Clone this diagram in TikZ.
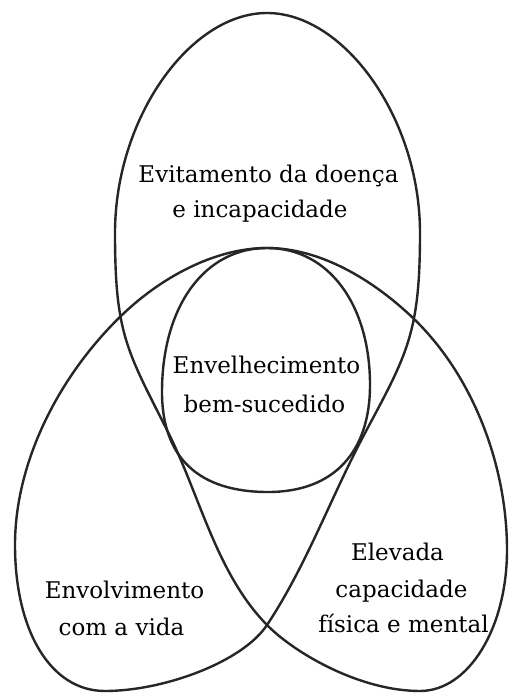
\documentclass[tikz,border=0pt]{standalone}
\usepackage{fontspec}
\setmainfont{DejaVu Serif}
\begin{document}
\begin{tikzpicture}[x=1pt,y=-1pt,
  outline/.style={draw=black!85,line width=2.4pt,line join=round},
  lbl/.style={anchor=base,inner sep=0pt,font=\fontsize{23}{36}\selectfont,text=black}]
\useasboundingbox (0,0) rectangle (510,693);
\fill[white] (0,0) rectangle (510,693);
% key points of the three-lobed outline
\coordinate (T)  at (267,13);
\coordinate (L1) at (115,233);
\coordinate (E1) at (167,430);
\coordinate (X)  at (267,625);
\coordinate (RB) at (420,691);
\coordinate (RR) at (507,550);
\coordinate (N1) at (413,318);
\coordinate (AP) at (267,248);
\coordinate (N2) at (122,315);
\coordinate (LL) at (15,545);
\coordinate (LB) at (105,691);
\coordinate (F1) at (365,433);
\coordinate (R1) at (420,233);
% three-lobed outline (one closed curve)
\draw[outline] (T)
  .. controls (190,13) and (115,118) .. (L1)
  .. controls (115,333) and (126.5,350) .. (E1)
  .. controls (199.9,495) and (216,573) .. (X)
  .. controls (295,653.4) and (360,691) .. (RB)
  .. controls (468.6,691) and (507,628) .. (RR)
  .. controls (507,466) and (473.5,376) .. (N1)
  .. controls (374,280.7) and (321,248) .. (AP)
  .. controls (214,248) and (160,278.4) .. (N2)
  .. controls (60.8,373.7) and (15,460) .. (LL)
  .. controls (15,630) and (50,691) .. (LB)
  .. controls (163,691) and (242.25,662.35) .. (X)
  .. controls (306.6,565.2) and (331.2,496.4) .. (F1)
  .. controls (407.3,353.8) and (420,333) .. (R1)
  .. controls (420,118) and (344,13) .. cycle;
% central rounded circle
\coordinate (CT) at (267,248);
\coordinate (CR) at (370,385);
\coordinate (CB) at (268,492);
\coordinate (CL) at (162,392);
\draw[outline] (CT)
  .. controls (329,248) and (370,305) .. (CR)
  .. controls (370,452) and (334,492) .. (CB)
  .. controls (199,492) and (162,458) .. (CL)
  .. controls (162,307) and (204,248) .. cycle;
% labels
\node[lbl] (t1a) at (268.5,182) {Evitamento da doença};
\node[lbl] (t1b) at (260,217) {e incapacidade};
\node[lbl] (t2a) at (266.5,373) {Envelhecimento};
\node[lbl] (t2b) at (264.5,412) {bem-sucedido};
\node[lbl] (t3a) at (124.5,598) {Envolvimento};
\node[lbl] (t3b) at (121.5,635) {com a vida};
\node[lbl] (t4a) at (397.5,560) {Elevada};
\node[lbl] (t4b) at (401.5,597) {capacidade};
\node[lbl] (t4c) at (403.5,632) {física e mental};
\end{tikzpicture}
\end{document}
